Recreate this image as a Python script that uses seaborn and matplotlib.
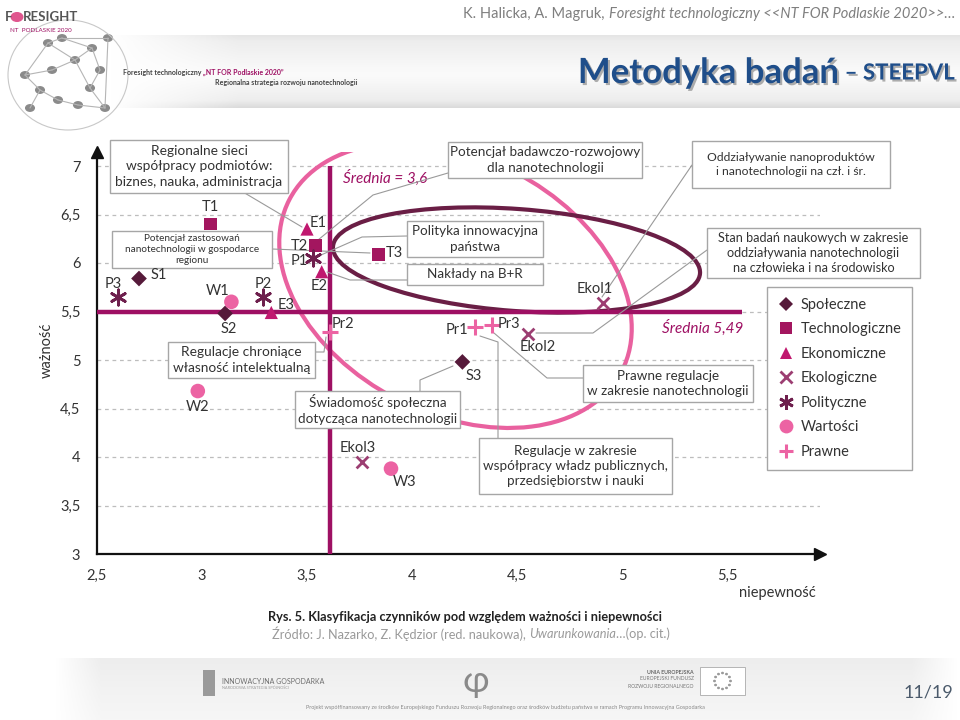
import matplotlib
matplotlib.use("Agg")
import numpy as np
import pandas as pd
import matplotlib.pyplot as plt
import seaborn as sns
import matplotlib.patheffects as pe
from matplotlib.patches import Ellipse, Rectangle, Circle
from matplotlib.lines import Line2D
from matplotlib.transforms import Affine2D

# ---- data ---------------------------------------------------------------
codes = ["S1", "S2", "S3", "T1", "T2", "T3", "E1", "E2", "E3",
         "Ekol1", "Ekol2", "Ekol3", "P1", "P2", "P3", "W1", "W2", "W3",
         "Pr1", "Pr2", "Pr3"]
groups = ["Społeczne"] * 3 + ["Technologiczne"] * 3 + ["Ekonomiczne"] * 3 + \
         ["Ekologiczne"] * 3 + ["Polityczne"] * 3 + ["Wartości"] * 3 + ["Prawne"] * 3
uncertainty = [2.70, 3.11, 4.24, 3.04, 3.54, 3.84, 3.50, 3.57, 3.33,
               4.91, 4.55, 3.76, 3.53, 3.29, 2.60, 3.14, 2.98, 3.90,
               4.30, 3.61, 4.38]
importance = [5.84, 5.48, 4.98, 6.40, 6.18, 6.09, 6.35, 5.91, 5.49,
              5.59, 5.27, 3.95, 6.05, 5.65, 5.65, 5.60, 4.68, 3.88,
              5.34, 5.29, 5.36]

mean_uncertainty = 3.61
mean_importance = 5.49

x_ticks = [2.5, 3, 3.5, 4, 4.5, 5, 5.5]
y_ticks = [3, 3.5, 4, 4.5, 5, 5.5, 6, 6.5, 7]

df = pd.DataFrame({"code": codes, "group": groups,
                   "x": uncertainty, "y": importance})

# ---- styles ---------------------------------------------------------------
styles = {
    "Społeczne":      dict(marker="D", color="#561A3A", ms=8.0, mew=0),
    "Technologiczne": dict(marker="s", color="#A3165F", ms=9.0, mew=0),
    "Ekonomiczne":    dict(marker="^", color="#C0186F", ms=9.5, mew=0),
    "Ekologiczne":    dict(marker="x", color="#9C3E72", ms=8.5, mew=2.0),
    "Polityczne":     dict(marker=(6, 2, 0), color="#6E1F4D", ms=11, mew=2.0),
    "Wartości":       dict(marker="o", color="#EC63A3", ms=10.5, mew=0),
    "Prawne":         dict(marker="+", color="#EC63A3", ms=11, mew=2.2),
}

label_offsets = {  # pixels (dx, dy), dy up
    "T1": (0, 17), "E1": (11, 6), "T2": (-16, 0), "P1": (-14, -3),
    "E2": (-3, -14), "T3": (16, 1), "S1": (20, 4), "P3": (-5, 13),
    "W1": (-14, 11), "P2": (0, 13), "E3": (15, 7), "S2": (4, -16),
    "Pr2": (13, 8), "Pr1": (-18, -3), "Pr3": (17, 1), "Ekol2": (10, -13),
    "Ekol1": (-8, 14), "S3": (11, -14), "Ekol3": (-4, 14), "W3": (14, -13),
    "W2": (0, -16),
}

MEAN_C = "#9E1063"
TXT_C = "#333333"
BOX_EC = "#A6A6A6"
LEAD_C = "#9A9A9A"

sns.set_theme(style="white")
plt.rcParams["font.family"] = ["Lato", "DejaVu Sans"]

W, H = 960, 720
fig = plt.figure(figsize=(W / 100, H / 100), dpi=100, facecolor="white")
renderer = fig.canvas.get_renderer()


def fx(px):
    return px / W


def fy(py):
    return 1 - py / H


def text_runs(x_px, y_px, parts, ha="left", **common):
    """Draw consecutive pieces of text with different styles on one line."""
    items = []
    for s, kw in parts:
        t = fig.text(0, fy(y_px), s, va="center", ha="left", **{**common, **kw})
        items.append(t)
    widths = [t.get_window_extent(renderer).width for t in items]
    start = x_px if ha == "left" else x_px - sum(widths)
    for t, w in zip(items, widths):
        t.set_x(fx(start))
        start += w
    return items


# ---- header band -----------------------------------------------------------
hdr = fig.add_axes([fx(110), fy(108), (960 - 110) / W, (108 - 35) / H])
yy = np.linspace(0, 1, 80)[:, None]
xx = np.linspace(0, 1, 400)[None, :]
prof = np.interp(yy, [0, 0.08, 0.55, 0.9, 1.0], [0.90, 0.93, 0.985, 0.93, 0.86])
fade = np.clip(xx / 0.15, 0, 1)
lvl = 1 - fade * (1 - prof)
hdr.imshow(np.dstack([lvl, lvl, lvl]), aspect="auto", extent=[0, 1, 0, 1])
hdr.axis("off")

text_runs(955, 14, [("K. Halicka, A. Magruk, ", {}),
                    ("Foresight technologiczny <<NT FOR Podlaskie 2020>>…", {"style": "italic"})],
          ha="right", fontsize=10.5, color="#7F7F7F")

shadow = [pe.withSimplePatchShadow(offset=(1.5, -1.5), shadow_rgbFace="#7A7A7A", alpha=0.6)]
text_runs(955, 73, [("Metodyka badań", {"fontsize": 25}),
                    (" – STEEPVL", {"fontsize": 16})],
          ha="right", fontweight="bold", color="#1F4E8A", path_effects=shadow)

# logo
fig.text(fx(5), fy(17), "F", fontsize=9.5, fontweight="bold", color="#555555", va="center")
fig.patches.append(Circle((fx(17), fy(17)), 0.006, transform=fig.transFigure,
                          color="#E0568E"))
fig.text(fx(23), fy(17), "RESIGHT", fontsize=9.5, fontweight="bold", color="#555555", va="center")
fig.text(fx(10), fy(30), "NT  PODLASKIE 2020", fontsize=4.5, color="#9E1063", va="center")
logo_nodes = [(25, 75), (48, 43), (62, 38), (75, 60), (92, 48), (100, 70), (40, 90),
              (58, 100), (30, 108), (78, 105), (105, 108), (90, 88), (52, 70), (108, 38)]
logo_edges = [(0, 1), (1, 2), (2, 4), (1, 3), (3, 4), (4, 5), (0, 6), (6, 7), (7, 9),
              (6, 8), (9, 10), (5, 11), (11, 10), (3, 12), (12, 0), (2, 13), (13, 10), (3, 11)]
for a, b in logo_edges:
    fig.add_artist(Line2D([fx(logo_nodes[a][0]), fx(logo_nodes[b][0])],
                          [fy(logo_nodes[a][1]), fy(logo_nodes[b][1])],
                          color="#B5B5B5", lw=0.8))
for nx, ny in logo_nodes:
    fig.patches.append(Circle((fx(nx), fy(ny)), 0.0045, transform=fig.transFigure,
                              color="#8A8A8A"))
fig.patches.append(Ellipse((fx(68), fy(75)), 120 / W, 110 / H, transform=fig.transFigure,
                           fill=False, ec="#C8C8C8", lw=0.8))
text_runs(123, 72, [("Foresight technologiczny ", {"color": "#444444"}),
                    ("„NT FOR Podlaskie 2020”", {"color": "#9E1063"})],
          fontsize=5, fontweight="bold")
fig.text(fx(215), fy(83), "Regionalna strategia rozwoju nanotechnologii", fontsize=5,
         fontweight="bold", color="#444444", va="center")

# ---- main chart ------------------------------------------------------------
x0, x1 = 2.5, 2.5 + (820 - 97) / 210
y0, y1 = 3.0, 3.0 + (554 - 152) / 97
ax = fig.add_axes([fx(97), fy(554), (820 - 97) / W, (554 - 152) / H])
ax.set_xlim(x0, x1)
ax.set_ylim(y0, y1)
ax.set_facecolor("none")

for yv in y_ticks[1:]:
    ax.axhline(yv, color="#BDBDBD", lw=0.9, ls=(0, (3, 3)), zorder=1)

px_x = ax.get_position().width * W / (x1 - x0)
px_y = ax.get_position().height * H / (y1 - y0)


def px2data(px, py):
    return x0 + (px - 97) / px_x, y0 + (554 - py) / px_y


# ellipses (centre in reference pixels, semi-axes in pixels, tilt in degrees)
for (cxp, cyp, a, b, ang, col) in [(455.5, 285.5, 187, 128, -27.3, "#E9619F"),
                                    (516.5, 260.0, 184, 51, -4.2, "#6A1E45")]:
    cx, cy = px2data(cxp, cyp)
    tr = Affine2D().scale(1 / px_x, 1 / px_y).translate(cx, cy) + ax.transData
    ax.add_patch(Ellipse((0, 0), 2 * a, 2 * b, angle=ang, fill=False, ec=col,
                         lw=3.0, transform=tr, zorder=2))

ax.plot([mean_uncertainty, mean_uncertainty], [3, 7], color=MEAN_C, lw=3.2,
        zorder=3, solid_capstyle="butt")
ax.plot([2.5, 5.57], [mean_importance, mean_importance], color=MEAN_C, lw=3.2,
        zorder=3, solid_capstyle="butt")
ax.text(3.67, 6.88, "Średnia = 3,6", color=MEAN_C, fontsize=11, style="italic",
        va="center", ha="left", zorder=4)
ax.text(5.19, 5.33, "Średnia 5,49", color=MEAN_C, fontsize=11, style="italic",
        va="center", ha="left", zorder=4)

# leader lines (reference pixel coordinates)
leaders = [
    [(243, 192), (302, 227)],
    [(448, 173), (373, 195), (318, 240)],
    [(272, 249), (370, 253)],
    [(407, 236), (362, 237), (321, 255)],
    [(407, 280), (350, 280), (327, 272)],
    [(692, 165), (602, 297)],
    [(707, 250), (593, 333), (536, 333)],
    [(315, 352), (324, 352), (326, 337)],
    [(420, 391), (420, 380), (453, 366)],
    [(583, 378), (547, 378), (494, 333)],
    [(498, 438), (498, 342), (480, 336)],
]
for pts in leaders:
    ax.add_line(Line2D([fx(p[0]) for p in pts], [fy(p[1]) for p in pts],
                       transform=fig.transFigure, color=LEAD_C, lw=0.8,
                       zorder=4, clip_on=False))

# annotation boxes (reference pixel extents)
boxes = [
    ("Regionalne sieci\nwspółpracy podmiotów:\nbiznes, nauka, administracja",
     (110, 140, 288, 193), 9.9),
    ("Potencjał zastosowań\nnanotechnologii w gospodarce\nregionu",
     (112, 231, 272, 268), 7.2),
    ("Potencjał badawczo-rozwojowy\ndla nanotechnologii", (448, 142, 642, 178), 9.7),
    ("Oddziaływanie nanoproduktów\ni nanotechnologii na czł. i śr.",
     (692, 141, 890, 188), 8.7),
    ("Polityka innowacyjna\npaństwa", (407, 221, 543, 257), 9.7),
    ("Nakłady na B+R", (407, 264, 543, 285), 9.7),
    ("Stan badań naukowych w zakresie\noddziaływania nanotechnologii\nna człowieka i na środowisko",
     (707, 228, 920, 278), 9.1),
    ("Regulacje chroniące\nwłasność intelektualną", (168, 342, 315, 378), 9.9),
    ("Świadomość społeczna\ndotycząca nanotechnologii", (295, 391, 460, 428), 9.7),
    ("Prawne regulacje\nw zakresie nanotechnologii", (583, 365, 753, 402), 9.7),
    ("Regulacje w zakresie\nwspółpracy władz publicznych,\nprzedsiębiorstw i nauki",
     (479, 438, 672, 494), 9.7),
]
for text, (bx0, by0, bx1, by1), fs in boxes:
    ax.add_patch(Rectangle((fx(bx0), fy(by1)), (bx1 - bx0) / W, (by1 - by0) / H,
                           transform=fig.transFigure, fc="white", ec=BOX_EC,
                           lw=1.0, zorder=5, clip_on=False))
    ax.text(fx((bx0 + bx1) / 2), fy((by0 + by1) / 2), text, transform=fig.transFigure,
            ha="center", va="center", fontsize=fs, color=TXT_C, linespacing=1.32,
            zorder=5.5, clip_on=False)

# points
for grp, st in styles.items():
    sub = df[df["group"] == grp]
    filled = st["mew"] == 0
    sns.scatterplot(data=sub, x="x", y="y", ax=ax, marker=st["marker"],
                    s=st["ms"] ** 2, color=st["color"],
                    linewidth=0 if filled else st["mew"],
                    edgecolor=st["color"] if not filled else "none",
                    zorder=6, legend=False, clip_on=False)

for _, r in df.iterrows():
    dx, dy = label_offsets[r["code"]]
    ax.annotate(r["code"], (r["x"], r["y"]), xytext=(dx, dy), textcoords="offset pixels",
                ha="center", va="center", fontsize=10.5, color=TXT_C, zorder=7)

# axes styling
for s in ["top", "right"]:
    ax.spines[s].set_visible(False)
for s in ["left", "bottom"]:
    ax.spines[s].set_color("#111111")
    ax.spines[s].set_linewidth(1.6)
ax.plot(1, 0, ">", transform=ax.transAxes, clip_on=False, color="#111111", ms=9, zorder=8)
ax.plot(0, 1, "^", transform=ax.transAxes, clip_on=False, color="#111111", ms=9, zorder=8)

ax.set_xticks(x_ticks)
ax.set_xticklabels([f"{v:g}".replace(".", ",") for v in x_ticks])
ax.set_yticks(y_ticks)
ax.set_yticklabels([f"{v:g}".replace(".", ",") for v in y_ticks])
ax.tick_params(axis="both", direction="out", length=4, width=1.8, color="#111111",
               labelsize=10.5, labelcolor=TXT_C)
ax.tick_params(axis="y", pad=8)
ax.tick_params(axis="x", pad=7)
ax.set_xlabel("")
ax.set_ylabel("")
ax.grid(False)

fig.text(fx(47), fy(350), "ważność", rotation=90, fontsize=10.5, color=TXT_C,
         ha="center", va="center")
fig.text(fx(777), fy(593), "niepewność", fontsize=10.5, color=TXT_C,
         ha="center", va="center")

# legend
handles = [Line2D([], [], ls="none", marker=st["marker"], color=st["color"],
                  markersize=st["ms"] * 0.95, markeredgewidth=st["mew"] if st["mew"] else 0.0)
           for st in styles.values()]
leg = ax.legend(handles, list(styles.keys()), loc="upper left",
                bbox_to_anchor=(fx(767), fy(287)), bbox_transform=fig.transFigure,
                frameon=True, fancybox=False, edgecolor=BOX_EC, framealpha=1,
                fontsize=10.5, labelspacing=0.72, handlelength=1.1, handletextpad=0.45,
                borderpad=0.75, borderaxespad=0)
leg.get_frame().set_linewidth(1.0)
leg.set_zorder(10)
for t in leg.get_texts():
    t.set_color(TXT_C)

# ---- caption & footer ------------------------------------------------------
fig.text(fx(465), fy(617), "Rys. 5. Klasyfikacja czynników pod względem ważności i niepewności",
         fontsize=9.2, fontweight="bold", color="#222222", ha="center", va="center")
text_runs(272, 634, [("Źródło: J. Nazarko, Z. Kędzior (red. naukowa), ", {}),
                     ("Uwarunkowania", {"style": "italic"}),
                     ("…(op. cit.)", {})],
          fontsize=9.2, color="#9A9A9A")

ftr = fig.add_axes([fx(55), 0, (958 - 55) / W, (720 - 658) / H])
fy_prof = np.interp(np.linspace(0, 1, 40)[:, None], [0, 0.5, 1], [0.93, 0.95, 0.965])
fxf = np.linspace(0, 1, 400)[None, :]
ffade = np.clip(np.minimum(fxf / 0.05, (1 - fxf) / 0.05), 0, 1)
fl = 1 - ffade * (1 - fy_prof)
ftr.imshow(np.dstack([fl, fl, fl]), aspect="auto", extent=[0, 1, 0, 1])
ftr.axis("off")

fig.patches.append(Rectangle((fx(203), fy(696)), 12 / W, 26 / H, transform=fig.transFigure,
                             fc="#9A9A9A", ec="none"))
fig.text(fx(222), fy(681), "INNOWACYJNA GOSPODARKA", fontsize=5, color="#6E6E6E", va="center")
fig.text(fx(222), fy(688), "NARODOWA STRATEGIA SPÓJNOŚCI", fontsize=2.8, color="#9A9A9A", va="center")
fig.text(fx(476), fy(682), "φ", fontsize=26, color="#8A8A8A", ha="center", va="center")
fig.text(fx(694), fy(672), "UNIA EUROPEJSKA", fontsize=3.8, fontweight="bold",
         color="#666666", ha="right", va="center")
fig.text(fx(694), fy(679), "EUROPEJSKI FUNDUSZ", fontsize=3.6, color="#777777",
         ha="right", va="center")
fig.text(fx(694), fy(686), "ROZWOJU REGIONALNEGO", fontsize=3.6, color="#777777",
         ha="right", va="center")
fig.patches.append(Rectangle((fx(700), fy(695)), 45 / W, 28 / H, transform=fig.transFigure,
                             fc="white", ec="#AAAAAA", lw=0.6))
for k in range(12):
    t = 2 * np.pi * k / 12
    fig.patches.append(Circle((fx(722.5 + 8 * np.cos(t)), fy(681 + 8 * np.sin(t))), 0.0008,
                              transform=fig.transFigure, color="#9A9A9A"))
fig.text(fx(505), fy(708), "Projekt współfinansowany ze środków Europejskiego Funduszu Rozwoju "
         "Regionalnego oraz środków budżetu państwa w ramach Programu Innowacyjna Gospodarka",
         fontsize=4, color="#8A8A8A", ha="center", va="center")
fig.text(fx(928), fy(692), "11/19", fontsize=13, color="#4B5A6B", ha="center", va="center")

fig.savefig("out.png", dpi=100, facecolor="white")
